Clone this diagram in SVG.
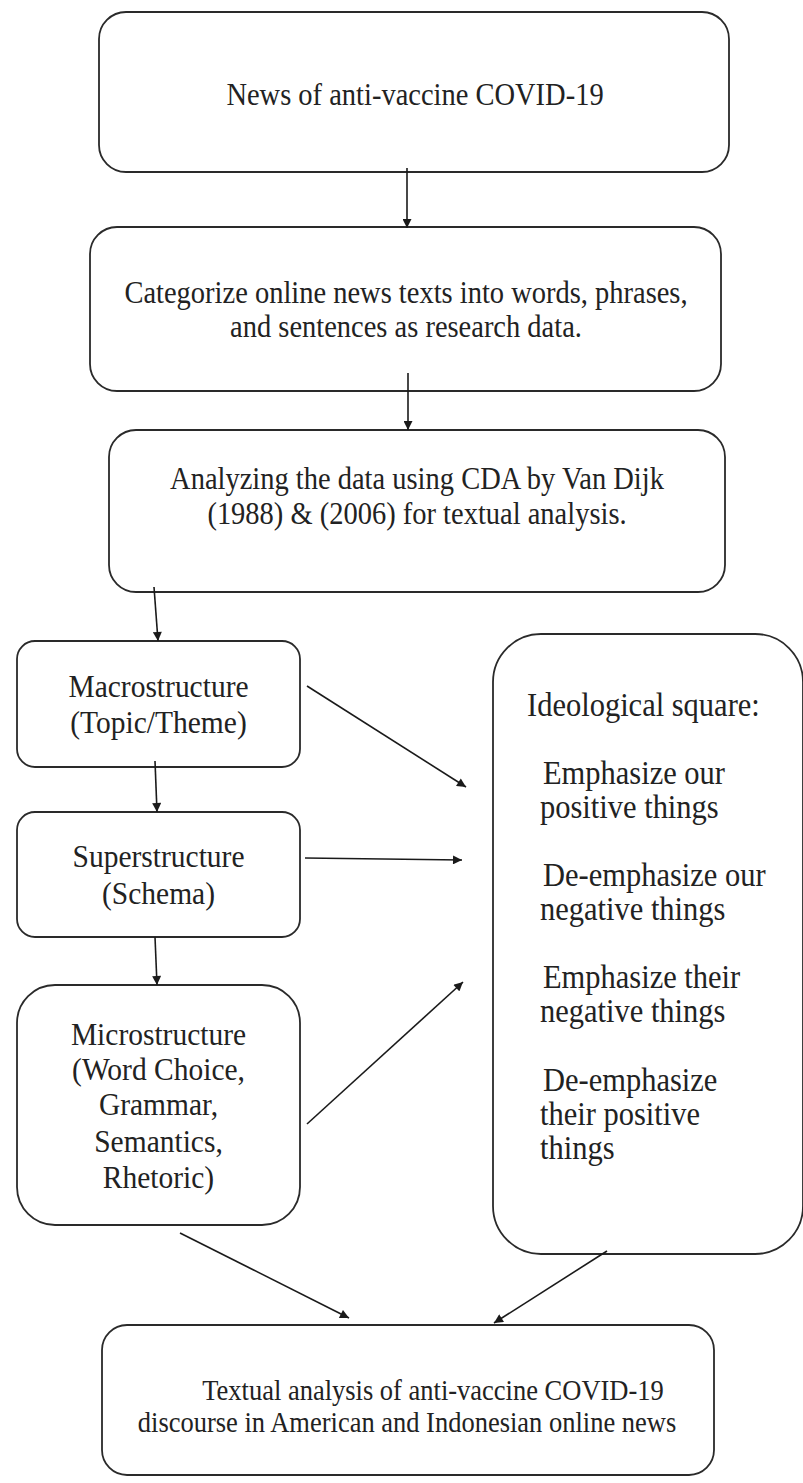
<svg xmlns="http://www.w3.org/2000/svg" width="803" height="1483" viewBox="0 0 803 1483">
<style>
  .box { fill: #ffffff; stroke: #2a2a2a; stroke-width: 1.8; }
  .t { font-family: "Liberation Serif", "Times New Roman", serif; fill: #222222; text-anchor: middle; }
  .m { font-size: 28.5px; }
  .l { font-size: 29.5px; }
  .r { font-size: 30.5px; text-anchor: start; }
  .f { font-size: 26.5px; }
  .c { stroke: #1a1a1a; stroke-width: 1.6; fill: none; marker-end: url(#ah); }
</style>
<defs>
  <marker id="ah" viewBox="0 0 10 10" refX="10" refY="5" markerWidth="10" markerHeight="9" markerUnits="userSpaceOnUse" orient="auto">
    <path d="M0,0 L10,5 L0,10 z" fill="#1a1a1a"/>
  </marker>
</defs>
<rect width="803" height="1483" fill="#ffffff"/>

<g id="n1">
  <rect class="box" x="99" y="12" width="630" height="160" rx="27"/>
  <text class="t m" transform="matrix(1 0 0 1.1 415 105)">News of anti-vaccine COVID-19</text>
</g>
<g id="n2">
  <rect class="box" x="90" y="227" width="631" height="164" rx="27"/>
  <text class="t m" transform="matrix(1 0 0 1.1 406 303)">Categorize online news texts into words, phrases,</text>
  <text class="t m" transform="matrix(1 0 0 1.1 406 337)">and sentences as research data.</text>
</g>
<g id="n3">
  <rect class="box" x="109" y="430" width="616" height="162" rx="27"/>
  <text class="t m" transform="matrix(1 0 0 1.1 417 489)">Analyzing the data using CDA by Van Dijk</text>
  <text class="t m" transform="matrix(1 0 0 1.1 417 524)">(1988) &amp; (2006) for textual analysis.</text>
</g>
<g id="macro">
  <rect class="box" x="17" y="641" width="283" height="126" rx="18"/>
  <text class="t l" transform="matrix(1 0 0 1.1 158.5 697)">Macrostructure</text>
  <text class="t l" transform="matrix(1 0 0 1.1 158.5 733)">(Topic/Theme)</text>
</g>
<g id="super">
  <rect class="box" x="17" y="812" width="283" height="125" rx="18"/>
  <text class="t l" transform="matrix(1 0 0 1.1 158.5 867)">Superstructure</text>
  <text class="t l" transform="matrix(1 0 0 1.1 158.5 904)">(Schema)</text>
</g>
<g id="micro">
  <rect class="box" x="17" y="985" width="283" height="240" rx="38"/>
  <text class="t l" transform="matrix(1 0 0 1.1 158.5 1045)">Microstructure</text>
  <text class="t l" transform="matrix(1 0 0 1.1 158.5 1080)">(Word Choice,</text>
  <text class="t l" transform="matrix(1 0 0 1.1 158.5 1115)">Grammar,</text>
  <text class="t l" transform="matrix(1 0 0 1.1 158.5 1152)">Semantics,</text>
  <text class="t l" transform="matrix(1 0 0 1.1 158.5 1188)">Rhetoric)</text>
</g>
<g id="ideological">
  <rect class="box" x="493" y="634" width="310" height="620" rx="48"/>
  <text class="t r" transform="matrix(1 0 0 1.1 527 716)">Ideological square:</text>
  <text class="t r" transform="matrix(1 0 0 1.1 543 784)">Emphasize our</text>
  <text class="t r" transform="matrix(1 0 0 1.1 540 818)">positive things</text>
  <text class="t r" transform="matrix(1 0 0 1.1 543 886)">De-emphasize our</text>
  <text class="t r" transform="matrix(1 0 0 1.1 540 920)">negative things</text>
  <text class="t r" transform="matrix(1 0 0 1.1 543 988)">Emphasize their</text>
  <text class="t r" transform="matrix(1 0 0 1.1 540 1022)">negative things</text>
  <text class="t r" transform="matrix(1 0 0 1.1 543 1091)">De-emphasize</text>
  <text class="t r" transform="matrix(1 0 0 1.1 540 1125)">their positive</text>
  <text class="t r" transform="matrix(1 0 0 1.1 540 1159)">things</text>
</g>
<g id="result">
  <rect class="box" x="102" y="1325" width="612" height="150" rx="25"/>
  <text class="t f" transform="matrix(1 0 0 1.1 433 1400)">Textual analysis of anti-vaccine COVID-19</text>
  <text class="t f" transform="matrix(1 0 0 1.1 407 1432)">discourse in American and Indonesian online news</text>
</g>

<g id="connectors">
  <line class="c" x1="407" y1="168" x2="407" y2="228"/>
  <line class="c" x1="408" y1="373" x2="408" y2="430"/>
  <line class="c" x1="154" y1="587" x2="158" y2="641"/>
  <line class="c" x1="155" y1="761" x2="157" y2="812"/>
  <line class="c" x1="155" y1="937" x2="157" y2="985"/>
  <line class="c" x1="307" y1="686" x2="466" y2="787"/>
  <line class="c" x1="305" y1="858" x2="462" y2="860"/>
  <line class="c" x1="307" y1="1124" x2="463" y2="982"/>
  <line class="c" x1="180" y1="1233" x2="349" y2="1318"/>
  <line class="c" x1="607" y1="1251" x2="494" y2="1323"/>
</g>
</svg>
